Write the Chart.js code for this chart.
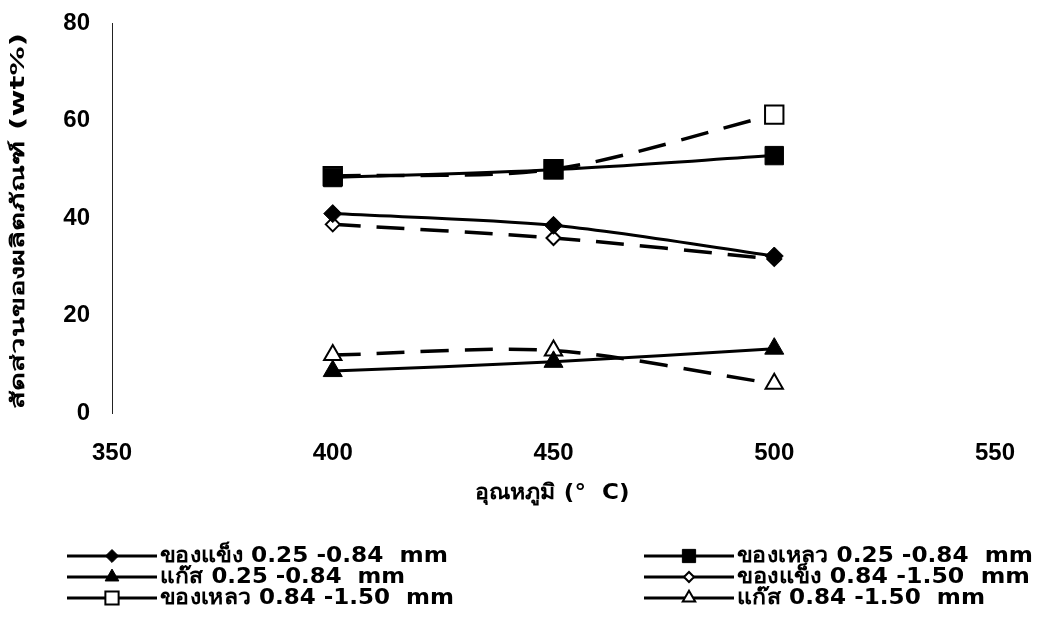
<!DOCTYPE html>
<html>
<head>
<meta charset="utf-8">
<script src="https://cdn.jsdelivr.net/npm/chart.js@4"></script>
<style>
  html, body { margin: 0; padding: 0; background: #fff; }
  #wrap { width: 1043px; height: 620px; position: relative; }
</style>
</head>
<body>
<div id="wrap"><canvas id="c" width="1043" height="620"></canvas></div>
<script>
// temperatures (deg C)
const temps = [400, 450, 500];
const xTicks = [350, 400, 450, 500, 550];

// product yields (wt%)
const solidSmall = [40.9, 38.5, 32.2];
const liquidSmall = [48.3, 49.9, 52.8];
const gasSmall = [8.6, 10.5, 13.2];
const solidLarge = [38.7, 35.9, 31.6];
const liquidLarge = [48.6, 50.0, 61.2];
const gasLarge = [11.9, 12.8, 6.0];

const names = [
    "ของแข็ง 0.25 -0.84  mm",
    "ของเหลว 0.25 -0.84  mm",
    "แก๊ส 0.25 -0.84  mm",
    "ของแข็ง 0.84 -1.50  mm",
    "ของเหลว 0.84 -1.50  mm",
    "แก๊ส 0.84 -1.50  mm",
];
const xTitle = "อุณหภูมิ (°  C)";
const yTitle = "สัดส่วนของผลิตภัณฑ์ (wt%)";

const TICKFONT = "'Liberation Sans', Arial, sans-serif";
const TEXTFONT = "'DejaVu Sans', 'Noto Sans', sans-serif";
const DASH = [28, 16];

function pts(arr) {
    return temps.map((t, i) => ({ x: t, y: arr[i] }));
}

function series(label, arr, style, radius, filled, dashed) {
    return {
        label,
        data: pts(arr),
        borderColor: "#000",
        borderWidth: dashed ? 3.5 : 3,
        borderDash: dashed ? DASH : [],
        pointStyle: style,
        pointRadius: radius,
        pointBackgroundColor: filled ? "#000" : "#fff",
        pointBorderColor: "#000",
        pointBorderWidth: filled ? 1 : 2,
        tension: 0.3,
        fill: false,
    };
}

const datasets = [
    series(names[0], solidSmall, "rectRot", 9, true, false),
    series(names[1], liquidSmall, "rect", 13, true, false),
    series(names[2], gasSmall, "triangle", 11, true, false),
    series(names[3], solidLarge, "rectRot", 7, false, true),
    series(names[4], liquidLarge, "rect", 13, false, true),
    series(names[5], gasLarge, "triangle", 10, false, true),
];

// text stretched horizontally to a target width
function fitText(ctx, text, x, y, width) {
    const w = ctx.measureText(text).width;
    ctx.save();
    ctx.translate(x, y);
    ctx.scale(width / w, 1);
    ctx.fillText(text, 0, 0);
    ctx.restore();
}

// legend and axis titles drawn below the plot
const extras = {
    id: "extras",
    afterDraw(chart) {
        const ctx = chart.ctx;
        ctx.save();
        ctx.fillStyle = "#000";
        ctx.font = "bold 21px " + TEXTFONT;
        ctx.textAlign = "center";
        ctx.textBaseline = "middle";
        fitText(ctx, xTitle, 552, 494, 155);

        ctx.save();
        ctx.translate(19, 221);
        ctx.rotate(-Math.PI / 2);
        ctx.font = "bold 19px " + TEXTFONT;
        fitText(ctx, yTitle, 0, 0, 376);
        ctx.restore();

        const cols = [67, 644];
        const rows = [556, 577, 598];
        const widths = [288, 296, 245, 293, 294, 248];
        chart.data.datasets.forEach((ds, i) => {
            const x0 = cols[i % 2];
            const y = rows[Math.floor(i / 2)];
            const x1 = x0 + 90;
            ctx.strokeStyle = "#000";
            ctx.lineWidth = 3;
            ctx.setLineDash([]);
            ctx.beginPath();
            ctx.moveTo(x0, y);
            ctx.lineTo(x1, y);
            ctx.stroke();
            ctx.fillStyle = ds.pointBackgroundColor;
            ctx.strokeStyle = "#000";
            ctx.lineWidth = ds.pointBorderWidth;
            Chart.helpers.drawPoint(ctx, {
                pointStyle: ds.pointStyle,
                radius: ds.pointRadius * 0.72,
                rotation: 0,
                borderWidth: ds.pointBorderWidth,
            }, (x0 + x1) / 2, y);
            ctx.font = "bold 21px " + TEXTFONT;
            ctx.textAlign = "left";
            ctx.fillStyle = "#000";
            fitText(ctx, ds.label, x1 + 3, y + 1, widths[i]);
        });
        ctx.restore();
    },
};

new Chart(document.getElementById("c"), {
    type: "line",
    data: { datasets },
    plugins: [extras],
    options: {
        responsive: false,
        animation: false,
        layout: { padding: { top: 23, right: 48, bottom: 0, left: 0 } },
        plugins: { legend: { display: false }, tooltip: { enabled: false } },
        scales: {
            x: {
                type: "linear",
                min: 350,
                max: 550,
                afterBuildTicks: (s) => { s.ticks = xTicks.map((v) => ({ value: v })); },
                afterFit: (s) => { s.height = 207; },
                grid: { display: false, drawTicks: false },
                border: { display: false },
                ticks: { color: "#000", padding: 26, font: { family: TICKFONT, size: 24, weight: "bold" } },
            },
            y: {
                min: 0,
                max: 80,
                afterFit: (s) => { s.width = 112; s.paddingTop = 0; s.paddingBottom = 0; },
                grid: { display: false, drawTicks: false },
                border: { display: true, color: "#222", width: 1 },
                ticks: { stepSize: 20, color: "#000", padding: 22, font: { family: TICKFONT, size: 24, weight: "bold" } },
            },
        },
    },
});
</script>
</body>
</html>
